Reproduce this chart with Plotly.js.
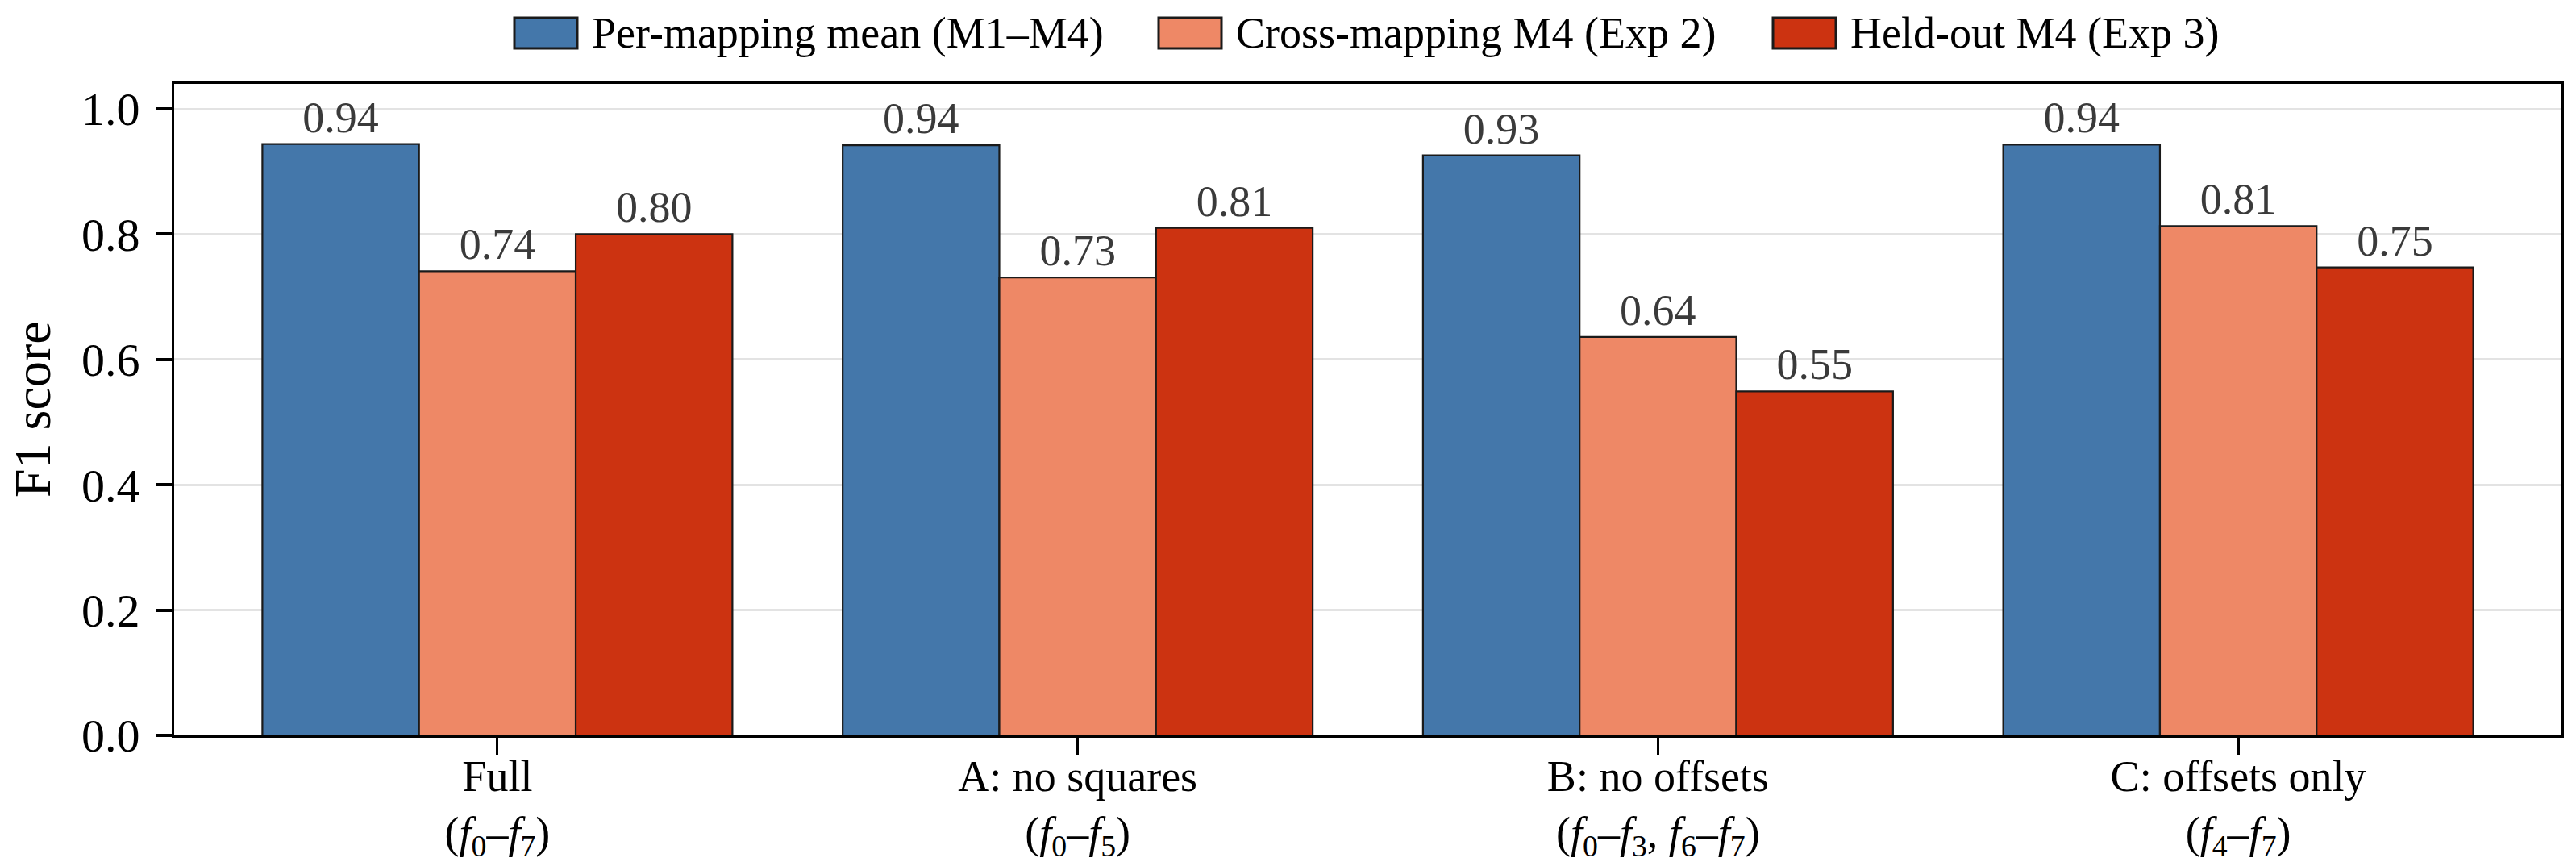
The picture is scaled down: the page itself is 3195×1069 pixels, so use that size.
<!DOCTYPE html>
<html>
<head>
<meta charset="utf-8">
<script src="https://cdn.plot.ly/plotly-3.0.1.min.js"></script>
<style>
  html, body { margin: 0; padding: 0; background: white; }
  #chart { width: 3195px; height: 1069px; }
</style>
</head>
<body>
<div id="chart"></div>
<script>
// Data
const categories = ['Full', 'A: no squares', 'B: no offsets', 'C: offsets only'];
const featureSets = [
  '(<i>f</i><sub>0</sub>–<i>f</i><sub>7</sub>)',
  '(<i>f</i><sub>0</sub>–<i>f</i><sub>5</sub>)',
  '(<i>f</i><sub>0</sub>–<i>f</i><sub>3</sub>, <i>f</i><sub>6</sub>–<i>f</i><sub>7</sub>)',
  '(<i>f</i><sub>4</sub>–<i>f</i><sub>7</sub>)'
];
const seriesNames = ['Per-mapping mean (M1–M4)', 'Cross-mapping M4 (Exp 2)', 'Held-out M4 (Exp 3)'];
const perMappingMean = [0.944, 0.942, 0.926, 0.943];
const crossMapping = [0.741, 0.731, 0.636, 0.813];
const heldOut = [0.800, 0.810, 0.549, 0.747];
const yTicks = [0.0, 0.2, 0.4, 0.6, 0.8, 1.0];
const yTitle = 'F1 score';
const refLine = 0.8;

const colors = ['#4477AA', '#EE8866', '#CC3311'];
const FONT = 'Liberation Serif, Times New Roman, serif';

// plot area in pixels (used only for placing the legend and y title)
const W = 3195, H = 1069;
const M = { l: 216, r: 18, t: 104, b: 157 };
const pw = W - M.l - M.r, ph = H - M.t - M.b;
const px = x => (x - M.l) / pw;
const py = y => (H - M.b - y) / ph;

const values = [perMappingMean, crossMapping, heldOut];
const traces = values.map((vals, i) => ({
  type: 'bar',
  x: categories,
  y: vals,
  name: seriesNames[i],
  marker: { color: colors[i], line: { color: '#1a1a1a', width: 2.2 } },
  texttemplate: '%{y:.2f}',
  textposition: 'outside',
  textfont: { family: FONT, size: 54, color: '#3a3a3a' },
  cliponaxis: false,
  showlegend: false,
  hoverinfo: 'skip'
}));

// legend: big boxed swatches like the original
const legendX = [638, 1437, 2199];
const shapes = [];
const annotations = [];
seriesNames.forEach((name, i) => {
  shapes.push({
    type: 'rect', xref: 'paper', yref: 'paper',
    x0: px(legendX[i]), x1: px(legendX[i] + 78),
    y0: py(60), y1: py(22),
    fillcolor: colors[i], line: { color: '#1a1a1a', width: 3 }
  });
  annotations.push({
    xref: 'paper', yref: 'paper',
    x: px(legendX[i] + 94), y: py(41),
    xanchor: 'left', yanchor: 'middle',
    text: name, showarrow: false,
    font: { family: FONT, size: 54, color: '#000' }
  });
});

// y axis title
annotations.push({
  xref: 'paper', yref: 'paper',
  x: px(40), y: 0.5,
  xanchor: 'center', yanchor: 'middle',
  textangle: -90, text: yTitle, showarrow: false,
  font: { family: FONT, size: 64, color: '#000' }
});

// dotted reference line at 0.8
shapes.push({
  type: 'line', xref: 'paper', yref: 'y',
  x0: 0, x1: 1, y0: refLine, y1: refLine,
  layer: 'below',
  line: { color: '#9a9a9a', width: 3, dash: 'dot' }
});

Plotly.newPlot('chart', traces, {
  width: W,
  height: H,
  margin: M,
  barmode: 'group',
  bargap: 0.19,
  bargroupgap: 0,
  paper_bgcolor: 'white',
  plot_bgcolor: 'white',
  font: { family: FONT, size: 54, color: '#000' },
  xaxis: {
    type: 'category',
    range: [-0.557, 3.557],
    tickvals: categories,
    ticktext: categories.map((c, i) => c + '<br>' + featureSets[i]),
    ticks: 'outside', ticklen: 21, tickwidth: 3, tickcolor: '#000',
    ticklabelstandoff: -20,
    showline: true, linecolor: '#000', linewidth: 3, mirror: true,
    showgrid: false, zeroline: false,
    tickfont: { family: FONT, size: 54, color: '#000' }
  },
  yaxis: {
    range: [0, 1.04],
    tickvals: yTicks,
    tickformat: '.1f',
    ticks: 'outside', ticklen: 20, tickwidth: 4, tickcolor: '#000',
    ticklabelstandoff: 8,
    showline: true, linecolor: '#000', linewidth: 3, mirror: true,
    showgrid: true, gridcolor: '#e3e3e3', gridwidth: 3,
    zeroline: false,
    tickfont: { family: FONT, size: 58, color: '#000' }
  },
  shapes: shapes,
  annotations: annotations
}, { displayModeBar: false, staticPlot: true });
</script>
</body>
</html>
